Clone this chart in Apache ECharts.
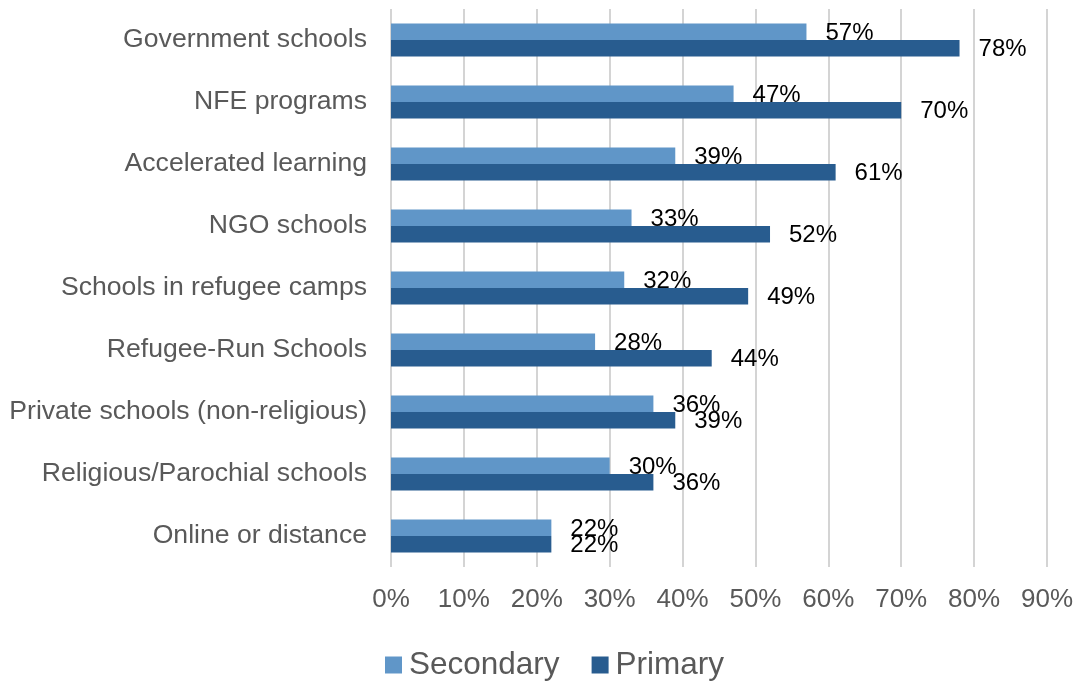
<!DOCTYPE html>
<html>
<head>
<meta charset="utf-8">
<script src="https://cdn.jsdelivr.net/npm/echarts@6/dist/echarts.min.js"></script>
<style>
  html, body { margin: 0; padding: 0; background: #ffffff; }
  #chart { width: 1081px; height: 686px; }
</style>
</head>
<body>
<div id="chart"></div>
<script>
// School types, listed top to bottom
const categories = [
  'Government schools',
  'NFE programs',
  'Accelerated learning',
  'NGO schools',
  'Schools in refugee camps',
  'Refugee-Run Schools',
  'Private schools (non-religious)',
  'Religious/Parochial schools',
  'Online or distance'
];

// Share (%) by level
const secondary = [57, 47, 39, 33, 32, 28, 36, 30, 22];
const primary   = [78, 70, 61, 52, 49, 44, 39, 36, 22];

// Value axis ticks
const axisMin = 0;
const axisMax = 90;
const axisStep = 10;

const FONT = '"Liberation Sans", Arial, sans-serif';

const labelStyle = {
  show: true,
  position: 'right',
  distance: 19,
  formatter: '{c}%',
  color: '#000000',
  fontSize: 24,
  fontFamily: FONT
};

const chart = echarts.init(document.getElementById('chart'), null, { renderer: 'canvas' });

chart.setOption({
  animation: false,
  backgroundColor: '#ffffff',
  grid: {
    left: 391,
    right: 34,
    top: 9,
    bottom: 119,
    containLabel: false
  },
  legend: {
    data: ['Secondary', 'Primary'],
    left: 385,
    top: 649,
    padding: 0,
    icon: 'rect',
    itemWidth: 17,
    itemHeight: 17,
    itemGap: 32,
    textStyle: { color: '#595959', fontSize: 31.5, fontFamily: FONT, padding: [0, 0, 0, 2] }
  },
  xAxis: {
    type: 'value',
    min: axisMin,
    max: axisMax,
    interval: axisStep,
    axisLine: { show: false },
    axisTick: { show: false },
    splitLine: { show: true, lineStyle: { color: '#d4d4d4', width: 2 } },
    axisLabel: {
      formatter: '{value}%',
      color: '#595959',
      fontSize: 26,
      fontFamily: FONT,
      margin: 20
    }
  },
  yAxis: {
    type: 'category',
    data: categories,
    inverse: true,
    axisLine: { show: false },
    axisTick: { show: false },
    splitLine: { show: false },
    axisLabel: {
      color: '#595959',
      fontSize: 26.6,
      fontFamily: FONT,
      margin: 24,
      padding: [3, 0, 0, 0]
    }
  },
  series: [
    {
      name: 'Secondary',
      type: 'bar',
      data: secondary,
      barWidth: 16.5,
      barGap: '0%',
      itemStyle: { color: '#6096C8' },
      label: Object.assign({}, labelStyle, { offset: [0, 2] })
    },
    {
      name: 'Primary',
      type: 'bar',
      data: primary,
      barWidth: 16.5,
      barGap: '0%',
      itemStyle: { color: '#285C8F' },
      label: Object.assign({}, labelStyle, { offset: [0, 1] })
    }
  ]
});
</script>
</body>
</html>
